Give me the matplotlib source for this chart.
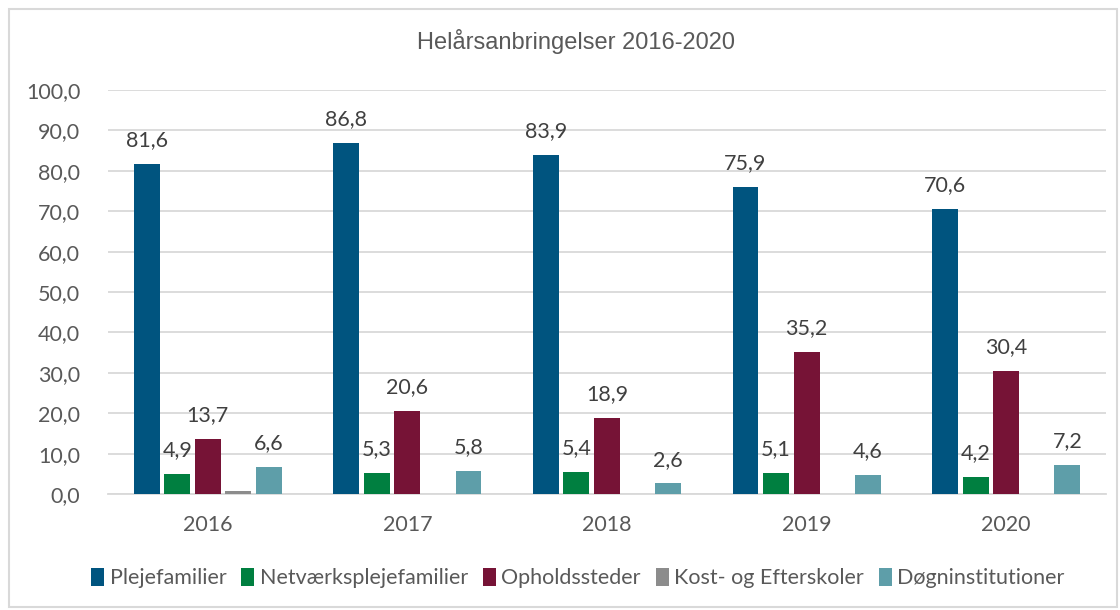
import matplotlib.pyplot as plt
import numpy as np
from matplotlib.patches import Rectangle

years = ['2016', '2017', '2018', '2019', '2020']
series = ['Plejefamilier', 'Netværksplejefamilier', 'Opholdssteder',
          'Kost- og Efterskoler', 'Døgninstitutioner']
plejefamilier = [81.6, 86.8, 83.9, 75.9, 70.6]
netvaerk = [4.9, 5.3, 5.4, 5.1, 4.2]
opholdssteder = [13.7, 20.6, 18.9, 35.2, 30.4]
kost = [0.7, 0, 0, 0, 0]
doegn = [6.6, 5.8, 2.6, 4.6, 7.2]
colors = ['#00547f', '#007f40', '#761336', '#8c8c8c', '#5e9ea9']
show_labels = [True, True, True, False, True]

plt.rcParams['font.family'] = ['Lato', 'DejaVu Sans']

fig = plt.figure(figsize=(11.2, 6.1), dpi=100)
ax = fig.add_axes([108 / 1120, 1 - 494 / 610, 998 / 1120, 404 / 610])

fig.patches.append(Rectangle((9 / 1120, 3 / 610), 1108 / 1120, 598 / 610,
                             transform=fig.transFigure, fill=False,
                             edgecolor='#d9d9d9', linewidth=1.5))

x = np.arange(len(years))
step = 0.153
width = 0.13
data = [plejefamilier, netvaerk, opholdssteder, kost, doegn]
for i, vals in enumerate(data):
    pos = x + (i - 2) * step
    bars = ax.bar(pos, vals, width, color=colors[i], label=series[i], zorder=3)
    if show_labels[i]:
        for b, v in zip(bars, vals):
            ax.annotate(f'{v:.1f}'.replace('.', ','),
                        (b.get_x() + b.get_width() / 2, v),
                        xytext=(0, 10), textcoords='offset points',
                        ha='center', va='bottom', fontsize=15.5, color='#404040')

ax.set_xlim(-0.5, 4.5)
ax.set_ylim(0, 100)
ax.set_yticks(np.arange(0, 101, 10))
ax.set_yticklabels([f'{t:.1f}'.replace('.', ',') for t in np.arange(0, 101, 10)])
ax.set_xticks(x)
ax.set_xticklabels(years)
ax.tick_params(axis='both', length=0, labelsize=15.5, labelcolor='#595959')
ax.tick_params(axis='y', pad=20)
ax.tick_params(axis='x', pad=15)
ax.grid(axis='y', color='#d9d9d9', linewidth=1.3, zorder=0)
for s in ['top', 'right', 'left']:
    ax.spines[s].set_visible(False)
ax.spines['bottom'].set_color('#d9d9d9')
ax.spines['bottom'].set_linewidth(1.3)

fig.text(576 / 1120, 1 - 42 / 610, 'Helårsanbringelser 2016-2020',
         ha='center', va='center', fontsize=17, color='#595959',
         family='Liberation Sans')

ax.legend(loc='center', bbox_to_anchor=(578 / 1120, 1 - 578 / 610),
          bbox_transform=fig.transFigure, ncol=5, frameon=False,
          fontsize=15.5, handlelength=0.6, handleheight=0.9, handletextpad=0.25,
          columnspacing=0.7, labelcolor='#595959')

fig.savefig('out.png', dpi=100)
